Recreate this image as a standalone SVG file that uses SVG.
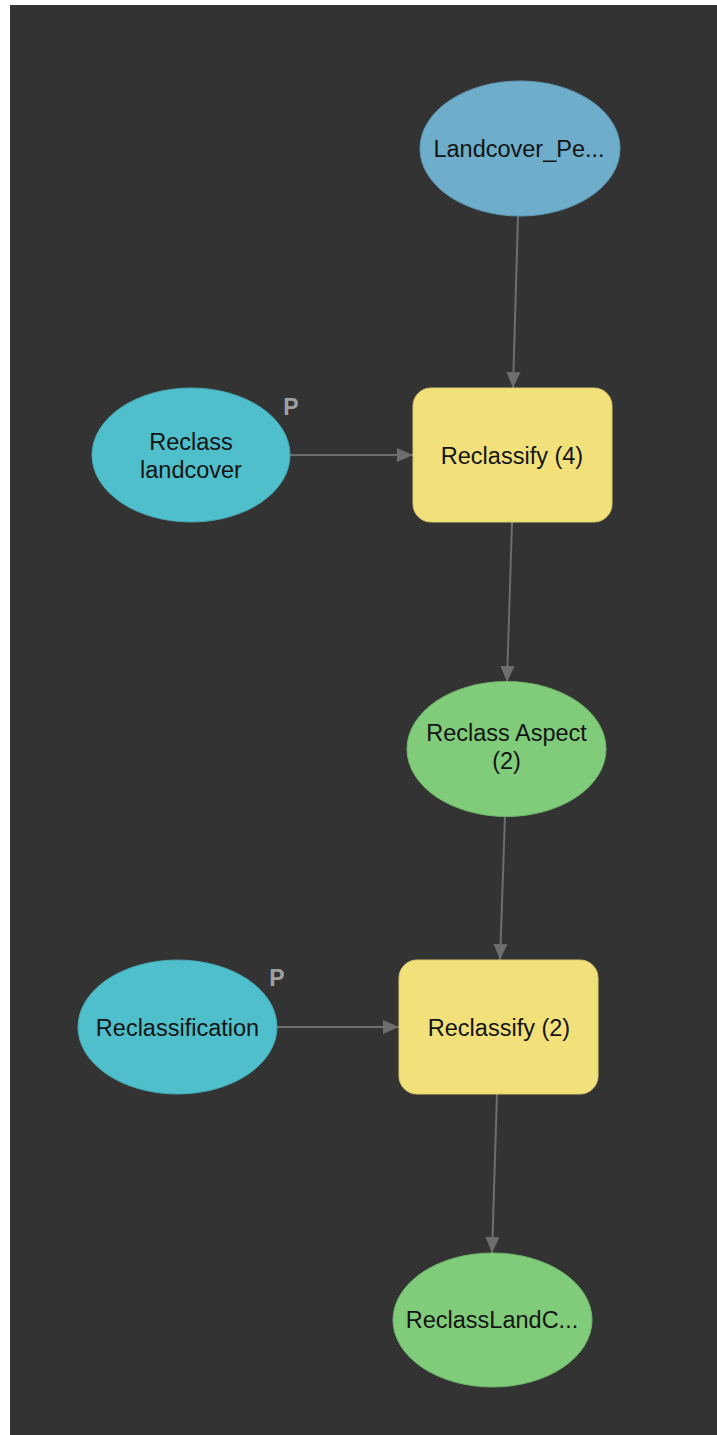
<svg xmlns="http://www.w3.org/2000/svg" width="717" height="1435" viewBox="0 0 717 1435">
  <style>
    .canvas { fill: #333333; }
    .data-in { fill: #6EAECB; stroke: #5f9cb8; stroke-width: 1; }
    .param { fill: #4FBFCB; stroke: #45aab5; stroke-width: 1; }
    .tool { fill: #F2E17B; stroke: #dccb69; stroke-width: 1; }
    .data-out { fill: #80CC7A; stroke: #70b86a; stroke-width: 1; }
    .label { font-family: "Liberation Sans", Arial, sans-serif; font-size: 23.5px; fill: #141414; text-anchor: middle; }
    .pflag { font-family: "Liberation Sans", Arial, sans-serif; font-size: 23px; font-weight: bold; fill: #a0a0a0; text-anchor: middle; }
    .edge { stroke: #6e6e6e; stroke-width: 2; fill: none; marker-end: url(#arrow); }
  </style>
  <defs>
    <marker id="arrow" markerUnits="userSpaceOnUse" markerWidth="16" markerHeight="16" viewBox="0 0 16 16" refX="16" refY="8" orient="auto">
      <path d="M0,1 L16,8 L0,15 Z" fill="#6e6e6e"/>
    </marker>
  </defs>

  <rect x="0" y="0" width="717" height="1435" fill="#ffffff"/>
  <rect class="canvas" x="10" y="5" width="707" height="1430"/>

  <g id="connectors">
    <line class="edge" x1="518" y1="216" x2="513" y2="388"/>
    <line class="edge" x1="290" y1="455" x2="413" y2="455"/>
    <line class="edge" x1="512" y1="522" x2="507" y2="682"/>
    <line class="edge" x1="505" y1="816" x2="500" y2="960"/>
    <line class="edge" x1="277" y1="1027" x2="399" y2="1027"/>
    <line class="edge" x1="497" y1="1094" x2="492" y2="1253"/>
  </g>

  <g id="landcover-pe">
    <ellipse class="data-in" cx="520" cy="148.5" rx="100" ry="67.5"/>
    <text class="label" x="519" y="157">Landcover_Pe...</text>
  </g>

  <g id="reclass-landcover">
    <ellipse class="param" cx="191" cy="455" rx="99" ry="67"/>
    <text class="label" x="191" y="450">Reclass</text>
    <text class="label" x="191" y="478">landcover</text>
    <text class="pflag" x="291" y="415">P</text>
  </g>

  <g id="reclassify-4">
    <rect class="tool" x="413" y="388" width="199" height="134" rx="18" ry="18"/>
    <text class="label" x="512" y="464">Reclassify (4)</text>
  </g>

  <g id="reclass-aspect-2">
    <ellipse class="data-out" cx="506.5" cy="749" rx="99.5" ry="67.5"/>
    <text class="label" x="506.5" y="741">Reclass Aspect</text>
    <text class="label" x="506.5" y="769">(2)</text>
  </g>

  <g id="reclassification">
    <ellipse class="param" cx="177.5" cy="1027" rx="99.5" ry="67"/>
    <text class="label" x="177.5" y="1036">Reclassification</text>
    <text class="pflag" x="277" y="986">P</text>
  </g>

  <g id="reclassify-2">
    <rect class="tool" x="399" y="960" width="199" height="134" rx="18" ry="18"/>
    <text class="label" x="499" y="1036">Reclassify (2)</text>
  </g>

  <g id="reclass-landc">
    <ellipse class="data-out" cx="492.5" cy="1320" rx="99.5" ry="67"/>
    <text class="label" x="492" y="1328">ReclassLandC...</text>
  </g>
</svg>
